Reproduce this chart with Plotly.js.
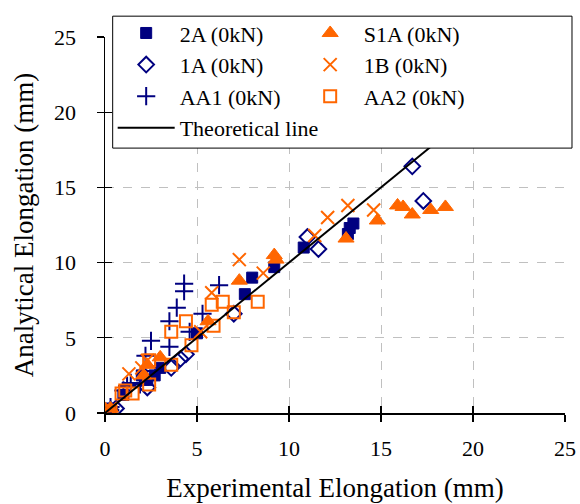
<!DOCTYPE html>
<html>
<head>
<meta charset="utf-8">
<script src="https://cdn.plot.ly/plotly-3.0.1.min.js"></script>
<style>html,body{margin:0;padding:0;background:#fff;}#chart{width:580px;height:504px;}</style>
</head>
<body>
<div id="chart"></div>
<script>
// ---- data ----
const s2A_x = [0.3, 1.0, 2.0, 2.3, 2.7, 3.0, 5.0, 7.6, 8.0, 9.2, 10.8, 13.2, 13.3, 13.5];
const s2A_y = [0.3, 1.2, 2.5, 2.2, 2.5, 3.0, 5.3, 7.9, 9.0, 9.7, 11.0, 11.9, 12.3, 12.6];

const s1A_x = [0.3, 0.6, 2.3, 3.6, 4.1, 4.4, 7.0, 11.0, 11.6, 16.7, 17.3];
const s1A_y = [0.2, 0.3, 1.7, 3.0, 3.6, 3.9, 6.6, 11.7, 10.9, 16.4, 14.1];

const sAA1_x = [0.3, 1.0, 1.2, 1.4, 1.9, 2.2, 2.2, 2.5, 3.5, 3.5, 3.9, 4.3, 4.3, 4.6, 5.3, 6.2];
const sAA1_y = [0.4, 1.5, 1.8, 2.0, 1.9, 2.8, 3.8, 4.8, 4.4, 6.1, 7.0, 8.1, 8.6, 5.4, 6.6, 8.5];

const sS1A_x = [0.3, 2.1, 2.3, 3.0, 5.6, 7.3, 9.2, 9.3, 13.1, 14.8, 15.9, 16.2, 16.7, 17.7, 18.5];
const sS1A_y = [0.3, 2.5, 3.2, 3.7, 6.1, 8.8, 10.5, 10.2, 11.6, 12.8, 13.8, 13.7, 13.2, 13.5, 13.7];

const s1B_x = [0.3, 1.3, 2.0, 2.3, 5.2, 5.8, 7.3, 8.6, 11.4, 12.1, 13.2, 14.6];
const s1B_y = [0.3, 2.6, 3.0, 3.5, 5.4, 8.0, 10.2, 9.3, 11.8, 13.0, 13.8, 13.5];

const sAA2_x = [0.1, 0.3, 0.9, 1.1, 1.5, 2.4, 2.4, 3.6, 3.6, 4.4, 4.7, 5.8, 5.9, 6.4, 7.0, 8.3];
const sAA2_y = [0.1, 0.1, 1.3, 1.5, 1.3, 1.9, 3.5, 3.2, 5.4, 6.1, 4.5, 7.2, 5.8, 7.4, 6.7, 7.4];

const theo_x = [0, 25];
const theo_y = [0, 25];

const xTicks = [0, 5, 10, 15, 20, 25];
const yTicks = [0, 5, 10, 15, 20, 25];

// ---- styling ----
const NAVY = '#000080';
const ORANGE = '#FF6600';
const FONT = 'Liberation Serif, Times New Roman, serif';

const traces = [
  {name: '2A (0kN)', x: s2A_x, y: s2A_y, type: 'scatter', mode: 'markers', legendrank: 1,
   marker: {symbol: 'square', size: 11, color: NAVY, line: {color: NAVY, width: 1}}},
  {name: '1A (0kN)', x: s1A_x, y: s1A_y, type: 'scatter', mode: 'markers', legendrank: 3,
   marker: {symbol: 'diamond-open', size: 12, color: NAVY, line: {color: NAVY, width: 2}}},
  {name: 'AA1 (0kN)', x: sAA1_x, y: sAA1_y, type: 'scatter', mode: 'markers', legendrank: 5,
   marker: {symbol: 'cross-thin-open', size: 13, color: NAVY, line: {color: NAVY, width: 2}}},
  {name: 'S1A (0kN)', x: sS1A_x, y: sS1A_y, type: 'scatter', mode: 'markers', legendrank: 2,
   marker: {symbol: 'triangle-up', size: 14, color: ORANGE, line: {color: ORANGE, width: 1}}},
  {name: '1B (0kN)', x: s1B_x, y: s1B_y, type: 'scatter', mode: 'markers', legendrank: 4,
   marker: {symbol: 'x-thin-open', size: 13, color: ORANGE, line: {color: ORANGE, width: 2}}},
  {name: 'AA2 (0kN)', x: sAA2_x, y: sAA2_y, type: 'scatter', mode: 'markers', legendrank: 6,
   marker: {symbol: 'square-open', size: 12, color: ORANGE, line: {color: ORANGE, width: 2}}},
  {name: 'Theoretical line', x: theo_x, y: theo_y, type: 'scatter', mode: 'lines', legendrank: 7,
   line: {color: '#000000', width: 2}},
  {x: [], y: [], xaxis: 'x2', yaxis: 'y2', type: 'scatter', mode: 'markers', showlegend: false, hoverinfo: 'skip'}
];

const axisCommon = {
  range: [0, 25], showgrid: true, gridcolor: '#c0c0c0', griddash: 'dash', gridwidth: 1,
  zeroline: false, showline: true, linecolor: '#000000', linewidth: 1.5,
  ticks: 'outside', ticklen: 7, tickwidth: 1.2, tickcolor: '#000000',
  tickfont: {family: FONT, size: 22, color: '#000000'}, fixedrange: true
};

const layout = {
  width: 580, height: 504,
  margin: {l: 105, r: 15, t: 34, b: 91, pad: 0},
  paper_bgcolor: '#ffffff', plot_bgcolor: '#ffffff',
  font: {family: FONT, color: '#000000'},
  showlegend: true,
  xaxis: Object.assign({}, axisCommon, {tickvals: xTicks, ticktext: xTicks.map(String), ticklabelstandoff: 8,
    title: {text: 'Experimental Elongation (mm)', font: {family: FONT, size: 27, color: '#000000'}, standoff: 18}}),
  yaxis: Object.assign({}, axisCommon, {tickvals: yTicks, ticktext: yTicks.map(String), ticklabelstandoff: 16,
    title: {text: 'Analytical Elongation (mm)', font: {family: FONT, size: 27, color: '#000000'}, standoff: 12}}),
  xaxis2: {overlaying: 'x', range: [0, 25], tickvals: xTicks, ticks: 'inside', ticklen: 7, tickwidth: 1.2, tickcolor: '#000000',
    showticklabels: false, showgrid: false, zeroline: false, showline: false, fixedrange: true},
  yaxis2: {overlaying: 'y', range: [0, 25], tickvals: yTicks, ticks: 'inside', ticklen: 7, tickwidth: 1.2, tickcolor: '#000000',
    showticklabels: false, showgrid: false, zeroline: false, showline: false, fixedrange: true},
  shapes: [
    {type: 'rect', xref: 'paper', yref: 'paper', x0: 0.0167, x1: 1.0152, y0: 0.7045, y1: 1.0554,
     fillcolor: '#ffffff', line: {color: '#000000', width: 1}, layer: 'above'}
  ],
  legend: {
    orientation: 'h', x: 0.0167, xanchor: 'left', y: 1.066, yanchor: 'top',
    bgcolor: 'rgba(0,0,0,0)', bordercolor: 'rgba(0,0,0,0)', borderwidth: 0,
    font: {family: FONT, size: 22, color: '#000000'},
    entrywidth: 112, entrywidthmode: 'pixels', itemwidth: 57, traceorder: 'normal'
  }
};

Plotly.newPlot('chart', traces, layout, {displayModeBar: false, staticPlot: true});
</script>
</body>
</html>
